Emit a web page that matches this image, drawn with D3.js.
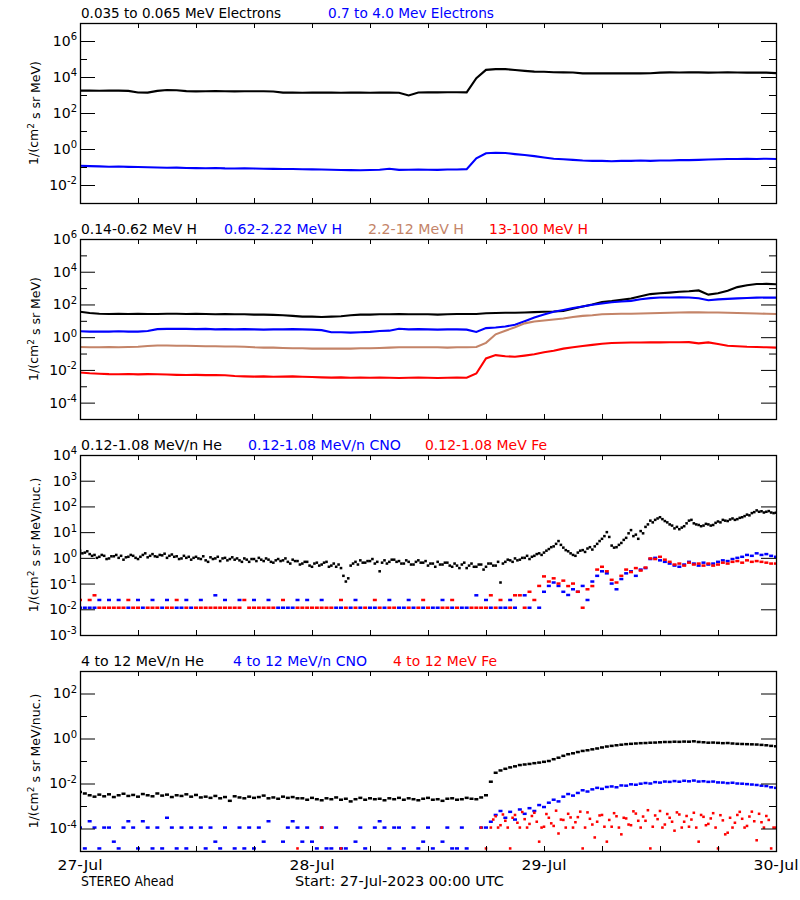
<!DOCTYPE html>
<html><head><meta charset="utf-8">
<script src="https://cdn.jsdelivr.net/npm/d3@7"></script>
<style>body{margin:0;background:#fff} svg{display:block} text{font-family:"DejaVu Sans",sans-serif}</style>
</head><body><svg id="c" width="800" height="900"></svg>
<script>
// ---------- DATA ----------
const startISO = "2023-07-27T00:00:00Z";
const dayLabels = ["27-Jul","28-Jul","29-Jul","30-Jul"];
// hourly series (t = 0..72 h)
const elecLow = [1740,1760,1720,1740,1750,1700,1380,1350,1700,1900,1850,1640,1600,1620,1650,1620,1600,1610,1630,1620,1580,1360,1350,1340,1350,1360,1350,1340,1350,1360,1340,1350,1360,1340,950,1380,1410,1400,1420,1410,1400,8500,25000,27500,27500,24500,22000,20000,19500,18200,18000,17800,16000,15800,15900,16000,15800,15900,16000,16100,17500,18000,17800,18200,18000,17600,17900,18100,17800,17500,17700,17400,16500];
const elecHigh = [0.118,0.112,0.108,0.104,0.106,0.102,0.100,0.097,0.094,0.090,0.092,0.088,0.087,0.085,0.088,0.084,0.083,0.086,0.082,0.080,0.079,0.077,0.078,0.075,0.074,0.072,0.070,0.068,0.067,0.066,0.068,0.070,0.080,0.069,0.071,0.073,0.070,0.069,0.072,0.073,0.076,0.30,0.58,0.62,0.60,0.52,0.46,0.40,0.34,0.29,0.27,0.25,0.23,0.22,0.22,0.21,0.22,0.22,0.23,0.22,0.23,0.23,0.24,0.24,0.25,0.26,0.27,0.28,0.28,0.29,0.28,0.29,0.28];
const hLow = [36,30,27,26,27,26,27,26,26,27,27,26,27,26,25,26,25,25,24,24,23,22,20,18,18,17,18,19,22,24,24,25,25,26,25,25,25,24,25,26,26,26,29,30,31,31,32,34,36,37,40,55,75,100,140,160,190,230,320,430,480,530,600,640,720,400,480,680,1150,1500,1780,1800,1700];
const hMid = [2.3,2.2,2.2,2.2,2.3,2.2,2.2,2.4,3.1,3.2,3.3,3.2,3.1,3.2,3.0,3.1,3.0,3.1,3.0,2.9,3.0,3.0,3.1,3.0,2.9,2.7,2.0,2.0,1.9,2.0,2.1,2.4,2.5,3.3,3.0,3.1,3.0,2.9,3.0,3.0,2.9,2.1,3.6,3.9,4.5,5.8,9.5,16,24,36,46,60,75,95,115,135,150,165,210,245,265,265,270,265,240,180,205,220,235,250,260,265,260];
const hHigh = [0.25,0.24,0.24,0.25,0.24,0.25,0.26,0.29,0.31,0.31,0.30,0.30,0.29,0.28,0.28,0.27,0.27,0.26,0.24,0.23,0.23,0.22,0.21,0.21,0.20,0.20,0.20,0.20,0.20,0.21,0.21,0.22,0.23,0.24,0.24,0.24,0.24,0.24,0.23,0.24,0.24,0.25,0.45,1.5,2.5,4.0,7.0,9.0,10.5,12,14,17,20,22,25,26,27,27,28,29,30,31,32,33,33,32,32,31,30,29,28,27,26];
const hTop = [0.0070,0.0062,0.0058,0.0055,0.0054,0.0056,0.0053,0.0055,0.0054,0.0052,0.0050,0.0049,0.0050,0.0048,0.0049,0.0047,0.0042,0.0040,0.0039,0.0040,0.0038,0.0039,0.0040,0.0038,0.0037,0.0035,0.0034,0.0035,0.0033,0.0034,0.0033,0.0034,0.0033,0.0032,0.0033,0.0034,0.0033,0.0032,0.0033,0.0034,0.0033,0.0060,0.050,0.080,0.068,0.064,0.075,0.090,0.12,0.15,0.20,0.24,0.29,0.34,0.40,0.44,0.46,0.47,0.47,0.48,0.48,0.49,0.49,0.50,0.42,0.48,0.38,0.30,0.28,0.26,0.25,0.24,0.23];
// 15-minute series (t = 0..72 h)
const heLow = [1.9,1.5,1.6,1.8,1.4,1.2,1.3,1.0,1.1,1.3,1.2,0.9,0.95,1.15,1.15,1.3,1.0,1.2,0.85,1.05,
1.1,1.3,1.2,1.0,0.9,1.1,1.3,1.5,1.05,1.2,1.4,1.15,1.1,1.3,1.25,1.45,1.0,1.2,1.35,1.1,
1.15,0.9,0.95,1.2,1.0,1.1,0.85,1.0,1.1,0.95,0.9,1.15,0.8,0.7,1.05,0.9,0.95,1.1,0.75,0.95,
1.0,0.8,0.9,1.05,0.85,0.95,0.8,0.7,0.95,0.85,0.7,0.9,0.9,0.75,1.0,0.85,0.75,0.95,0.85,0.7,
0.65,0.8,0.9,0.75,0.8,0.95,0.7,0.6,0.85,0.75,0.75,0.55,0.6,0.7,0.7,0.5,0.45,0.6,0.65,0.5,
0.55,0.65,0.7,0.45,0.5,0.6,0.45,0.55,0.4,0.2,0.12,0.16,0.5,0.6,0.7,0.55,0.8,0.65,0.65,0.75,
0.75,0.9,0.6,0.7,0.3,0.65,0.8,0.6,0.7,0.85,0.85,0.7,0.75,0.6,0.6,0.8,0.7,0.55,0.55,0.7,
0.8,0.65,0.65,0.75,0.5,0.6,0.6,0.45,0.7,0.55,0.55,0.65,0.65,0.5,0.45,0.6,0.5,0.4,0.55,0.65,
0.4,0.5,0.6,0.45,0.45,0.55,0.55,0.35,0.45,0.6,0.6,0.5,0.5,0.7,0.11,0.6,0.7,0.85,0.8,0.7,
0.95,0.8,0.85,1.0,1.0,1.2,0.9,1.1,1.2,1.4,1.5,1.3,1.6,1.9,2.2,2.6,2.8,3.5,4.5,3.2,
2.5,2.0,1.8,1.5,1.3,1.2,1.6,1.9,2.0,1.7,2.3,2.6,2.1,2.8,3.5,4.5,5.5,7.0,10,6.5,
3.0,2.5,2.6,3.2,3.8,5.0,6,9,12,7,8,5.5,11,9,16,20,28,24,30,34,
38,32,27,24,20,18,14,16,13,15,17,22,28,30,22,20,19,17,18,21,
20,18,19,23,26,24,30,28,27,31,34,30,32,36,38,42,48,45,55,60,
70,62,65,58,62,66,58,55,57];
// half-hourly series (t = 0..72 h, 30 min steps); 0 = no counts
const cnoLow = [.0115,.0115,.0115,.0115,.023,0,.023,0,.023,0,.0115,0,.023,.0115,0,.023,0,.0115,.023,0,.0115,.0115,.023,.0115,0,.023,0,0,.035,0,.023,0,0,.023,0,0,.023,0,0,.023,0,.0115,.0115,.0115,.0115,.023,0,.023,0,0,.023,0,0,.0115,.0115,0,.0115,.023,.0115,0,.0115,.0115,0,.0115,.023,0,.0115,.0115,.023,.0115,0,.0115,0,.0115,.0115,.023,0,.0115,0,.0115,.0115,0,.035,0,.023,.0115,0,.0115,.0115,.023,.0115,0,.035,.0115,0,.0115,.048,.081,.11,.081,.048,.036,.06,.048,.081,.023,.12,.2,.3,.25,.1,.06,.15,.25,.3,.2,.35,.4,.9,1.0,.8,.7,.6,.5,.45,.55,.7,.6,.5,.65,.55,.6,.7,.8,.75,.9,1.0,1.1,1.3,1.2,1.5,1.3,1.4,1.2,1.1];
const feLow = [.023,0,.023,.035,.0115,.0115,.0115,.0115,.0115,.0115,.023,.0115,.0115,0,.0115,.0115,.0115,0,.0115,.0115,.023,0,.0115,0,.0115,.0115,.0115,.0115,.0115,.0115,.0115,.0115,.0115,.0115,.023,.0115,.0115,.0115,.0115,.0115,.0115,0,.023,0,0,.0115,.0115,.0115,.0115,.0115,.0115,.0115,.0115,0,.023,.0115,0,.0115,0,.0115,0,.023,.0115,0,.0115,.0115,0,0,.0115,0,.0115,.023,.0115,0,0,.0115,.0115,.023,.0115,0,0,.0115,.0115,.0115,.0115,.035,.0115,.023,0,.0115,.035,.035,.0115,.048,.023,.081,.19,.12,.16,.1,.13,.08,.1,.048,.0115,.06,.08,.35,.45,.3,.14,.11,.2,.35,.28,.4,.32,.42,.95,.9,1.1,.85,.7,.55,.6,.5,.65,.55,.6,.5,.6,.5,.55,.65,.6,.7,.75,.65,.8,.7,.75,.7,.65,.6,.6];
const heHigh = [.0042,.0036,.0030,.0026,.0032,.0027,.0033,.0025,.0030,.0035,.0028,.0031,.0026,.0034,.0030,.0027,.0036,.0029,.0032,.0025,.0030,.0028,.0033,.0026,.0031,.0024,.0026,.0023,.0028,.0022,.0025,.0017,.0027,.0024,.0022,.0026,.0023,.0025,.0029,.0022,.0024,.0021,.0026,.0023,.0025,.0022,.0022,.0019,.0023,.0020,.0018,.0022,.0020,.0024,.0019,.0021,.0016,.0020,.0023,.0019,.0022,.0020,.0021,.0018,.0022,.0020,.0023,.0019,.0022,.0020,.0018,.0021,.0023,.0019,.0020,.0017,.0021,.0022,.0019,.0020,.0023,.0021,.0020,.0024,.0030,.012,.030,.038,.045,.052,.058,.066,.070,.074,.080,.085,.092,.10,.12,.14,.17,.20,.22,.25,.28,.30,.33,.36,.40,.44,.47,.50,.53,.56,.58,.60,.62,.63,.65,.66,.68,.70,.70,.72,.71,.73,.72,.75,.70,.68,.65,.66,.64,.62,.63,.60,.58,.57,.56,.55,.54,.52,.50,.47,.45];
const cnoHigh = [1.1e-4,1.3e-5,2.1e-4,1.1e-4,1.3e-5,1.1e-4,1.1e-4,2.6e-5,1.3e-5,1.1e-4,2.1e-4,1.1e-4,1.3e-5,2.1e-4,1.1e-4,1.3e-5,1.1e-4,1.3e-5,3e-4,1.1e-4,1.3e-5,1.1e-4,1.3e-5,1.1e-4,0,1.1e-4,1.3e-5,1.1e-4,2.6e-5,1.3e-5,1.1e-4,0,1.3e-5,1.1e-4,1.3e-5,1.1e-4,1.3e-5,1.1e-4,2.6e-5,2.1e-4,0,0,2.6e-5,1.1e-4,2.1e-4,1.1e-4,2.6e-5,1.1e-4,2.6e-5,1.3e-5,1.1e-4,1.3e-5,1.3e-5,1.1e-4,1.3e-5,1.3e-5,0,2.6e-5,1.1e-4,1.3e-5,0,1.1e-4,2.1e-4,1.1e-4,1.3e-5,1.1e-4,1.1e-4,1.3e-5,0,1.1e-4,1.3e-5,2.6e-5,1.1e-4,1.3e-5,0,2.6e-5,1.1e-4,1.3e-5,1.3e-5,1.1e-4,1.3e-5,0,0,1.1e-4,1.1e-4,2.0e-4,4.0e-4,6.0e-4,3.0e-4,5.5e-4,2.5e-4,7.0e-4,4.5e-4,8.0e-4,6.0e-4,1.1e-3,9.0e-4,1.4e-3,1.9e-3,1.6e-3,2.6e-3,3.4e-3,2.9e-3,3.8e-3,5.0e-3,4.4e-3,5.5e-3,6.4e-3,5.8e-3,7.0e-3,7.4e-3,6.8e-3,8.2e-3,8.0e-3,9.2e-3,8.8e-3,9.8e-3,0.0105,0.0100,0.0115,0.0110,0.0122,0.0118,0.0128,0.0120,0.0132,0.0125,0.0135,0.0122,0.0126,0.0118,0.0122,0.0112,0.0110,0.0104,0.0108,0.0100,0.0098,0.0094,0.0090,0.0086,0.0080,0.0077,0.0068,0.0064];
// 15-minute series; 0 = no counts
const feHigh = [0,0,0,0,0,0,0,0,0,0, 0,0,0,0,0,0,0,0,0,0, 0,0,0,0,0,0,0,0,0,0, 0,0,0,0,0,0,0,0,0,0, 0,0,0,0,0,0,0,0,0,0,
0,0,0,0,0,0,0,0,0,0, 0,0,0,0,0,0,0,0,0,0, 0,0,0,0,0,0,0,0,0,0, 0,0,0,0,0,0,0,0,0,0,
1.3e-5,0,0,0,0,0,0,0,0,0, 1.1e-4,0,0,0,0,0,0,0,1.3e-5,0,
0,0,0,0,0,0,0,0,0,0, 0,0,0,0,0,0,0,0,0,0, 0,0,0,0,0,0,0,0,0,0, 0,0,0,0,0,0,0,0,0,0, 0,0,0,0,0,0,0,0,0,0,
0,0,0,0,0,0,1.1e-4,0,1.3e-5,0,
1.1e-4,2.5e-4,3.5e-4,1.1e-4,1.4e-4,4.2e-4,2.2e-4,1.1e-4,1.3e-5,3.0e-4,
4.0e-4,1.8e-4,1.1e-4,5.4e-4,2.6e-4,1.1e-4,1.6e-4,3.6e-4,5.0e-4,2.0e-4,
2.6e-5,1.1e-4,1.2e-4,4.4e-4,3.0e-4,1.7e-4,1.3e-4,6.2e-4,6.0e-5,2.5e-4,
2.4e-4,1.1e-4,4.5e-4,3.1e-4,1.1e-4,1.9e-4,3.2e-4,5.6e-4,1.3e-5,1.1e-4,
5.2e-4,2.7e-4,1.5e-4,4.0e-5,2.0e-4,3.8e-4,4.0e-4,1.2e-4,2.6e-5,2.4e-4,
1.2e-4,4.8e-4,3.5e-4,1.1e-4,5.5e-5,3.0e-4,2.8e-4,1.5e-4,1.4e-4,5.8e-4,
4.6e-4,2.2e-4,1.1e-4,3.4e-4,2.2e-4,6.5e-4,1.3e-5,1.2e-4,3.8e-4,2.6e-4,
6.0e-4,1.1e-4,1.5e-4,4.4e-4,3.0e-4,2.0e-4,8.0e-5,5.2e-4,4.2e-4,1.1e-4,
2.0e-4,3.6e-4,1.2e-4,2.5e-4,5.0e-4,1.1e-4,2.6e-5,4.0e-4,3.3e-4,1.4e-4,
1.6e-4,2.8e-4,4.8e-4,1.1e-4,1.3e-5,3.9e-4,2.3e-4,5.5e-5,6.5e-5,3.0e-4,
1.1e-4,1.8e-4,4.0e-4,5.5e-4,2.7e-4,1.1e-4,1.3e-4,3.4e-4,5.6e-4,2.1e-4,
3.0e-5,4.5e-4,1.9e-4,1.1e-4,3.6e-4,2.4e-4,1.3e-5,1.1e-4,1.1e-4];

// ---------- CHART ----------
const start = new Date(startISO);
const end = d3.utcDay.offset(start, 3);
const stepTimes = n => d3.range(n).map(i => new Date(+start + i * (+end - +start) / (n - 1)));

const X0 = 80, X1 = 776, PH = 180;
const BLUE = "#0000ff", RED = "#ff0000", BROWN = "#c48468";
const svg = d3.select("#c");
svg.append("rect").attr("width", 800).attr("height", 900).attr("fill", "#fff");
const x = d3.scaleUtc().domain([start, end]).range([X0, X1]);

const units1 = ["1/(cm", "2", " s sr MeV)"];
const units2 = ["1/(cm", "2", " s sr MeV/nuc.)"];

const panels = [
  { top: 23, domain: [1e-3, 1e7], majors: [1e6, 1e4, 1e2, 1, 1e-2], minors: [1e5, 1e3, 10, 0.1], units: units1, tb: 18,
    titles: [["0.035 to 0.065 MeV Electrons", "#000", 81, 200], ["0.7 to 4.0 Mev Electrons", BLUE, 328, 166]],
    series: [{ v: elecLow, c: "#000", k: "line" }, { v: elecHigh, c: BLUE, k: "line" }] },
  { top: 239, domain: [1e-5, 1e6], majors: [1e6, 1e4, 1e2, 1, 1e-2, 1e-4], minors: [1e5, 1e3, 10, 0.1, 1e-3], units: units1, tb: 234,
    titles: [["0.14-0.62 MeV H", "#000", 81, 116], ["0.62-2.22 MeV H", BLUE, 224, 118], ["2.2-12 MeV H", BROWN, 368, 96], ["13-100 MeV H", RED, 489, 99]],
    series: [{ v: hLow, c: "#000", k: "line" }, { v: hMid, c: BLUE, k: "line" },
             { v: hHigh, c: BROWN, k: "line" }, { v: hTop, c: RED, k: "line" }] },
  { top: 455, domain: [1e-3, 1e4], majors: [1e4, 1e3, 1e2, 10, 1, 0.1, 1e-2, 1e-3], minors: [], units: units2, tb: 450,
    titles: [["0.12-1.08 MeV/n He", "#000", 81, 141], ["0.12-1.08 MeV/n CNO", BLUE, 248, 153], ["0.12-1.08 MeV Fe", RED, 425, 122]],
    series: [{ v: heLow, c: "#000", k: "dot" }, { v: cnoLow, c: BLUE, k: "dot" }, { v: feLow, c: RED, k: "dot" }] },
  { top: 671, domain: [1e-5, 1e3], majors: [1e2, 1, 1e-2, 1e-4], minors: [10, 0.1, 1e-3], units: units2, tb: 666,
    titles: [["4 to 12 MeV/n He", "#000", 81, 123], ["4 to 12 MeV/n CNO", BLUE, 233, 134], ["4 to 12 MeV Fe", RED, 393, 104]],
    series: [{ v: heHigh, c: "#000", k: "dot" }, { v: cnoHigh, c: BLUE, k: "dot" }, { v: feHigh, c: RED, k: "dot" }] }
];

const sixHours = d3.utcHour.every(6).range(start, d3.utcHour.offset(end, 1));

panels.forEach((p, pi) => {
  const bottom = p.top + PH;
  const y = d3.scaleLog().domain(p.domain).range([bottom, p.top]);
  const g = svg.append("g");
  const clipId = "clip" + pi;
  g.append("clipPath").attr("id", clipId).append("rect")
    .attr("x", X0).attr("y", p.top).attr("width", X1 - X0).attr("height", PH);
  const plot = g.append("g").attr("clip-path", `url(#${clipId})`);

  p.series.forEach(s => {
    const times = stepTimes(s.v.length);
    const pts = s.v.map((v, i) => ({ t: times[i], v })).filter(d => d.v > 0);
    if (s.k === "line") {
      plot.append("path").datum(pts)
        .attr("fill", "none").attr("stroke", s.c).attr("stroke-width", 2.1)
        .attr("d", d3.line().x(d => x(d.t)).y(d => y(d.v)));
    } else {
      const w = s.v.length > 200 ? 2.6 : 4.0;
      plot.selectAll(null).data(pts).enter().append("rect")
        .attr("x", d => x(d.t) - w / 2).attr("y", d => y(d.v) - 1.25)
        .attr("width", w).attr("height", 2.5).attr("fill", s.c);
    }
  });

  // frame
  g.append("rect").attr("x", X0 + 0.5).attr("y", p.top + 0.5).attr("width", X1 - X0).attr("height", PH)
    .attr("fill", "none").attr("stroke", "#000").attr("stroke-width", 1.3);

  const fmtAxis = sel => { sel.select(".domain").remove(); sel.selectAll(".tick line").attr("stroke", "#000"); };

  const yl = g.append("g").attr("transform", `translate(${X0},0)`)
    .call(d3.axisLeft(y).tickValues(p.majors).tickSize(-15).tickSizeOuter(0).tickPadding(3).tickFormat(() => "10"))
    .attr("font-size", 14).attr("font-family", "DejaVu Sans");
  fmtAxis(yl);
  yl.selectAll(".tick text").attr("fill", "#000").each(function (d) {
    const e = Math.round(Math.log10(d));
    d3.select(this).append("tspan").attr("dy", "-0.55em").attr("font-size", 10).text(e);
  });
  fmtAxis(g.append("g").attr("transform", `translate(${X1},0)`)
    .call(d3.axisRight(y).tickValues(p.majors).tickSize(-15).tickSizeOuter(0).tickFormat("")));
  if (p.minors.length) {
    fmtAxis(g.append("g").attr("transform", `translate(${X0},0)`)
      .call(d3.axisLeft(y).tickValues(p.minors).tickSize(-7).tickSizeOuter(0).tickFormat("")));
    fmtAxis(g.append("g").attr("transform", `translate(${X1},0)`)
      .call(d3.axisRight(y).tickValues(p.minors).tickSize(-7).tickSizeOuter(0).tickFormat("")));
  }
  fmtAxis(g.append("g").attr("transform", `translate(0,${bottom})`)
    .call(d3.axisBottom(x).tickValues(sixHours).tickSize(-5).tickSizeOuter(0).tickFormat("")));
  fmtAxis(g.append("g").attr("transform", `translate(0,${p.top})`)
    .call(d3.axisTop(x).tickValues(sixHours).tickSize(-5).tickSizeOuter(0).tickFormat("")));

  const yt = g.append("text").attr("transform", `translate(38,${p.top + PH / 2}) rotate(-90)`)
    .attr("text-anchor", "middle").attr("font-size", 12.5).attr("fill", "#000");
  yt.append("tspan").text(p.units[0]);
  yt.append("tspan").attr("dy", "-0.5em").attr("font-size", 9).text(p.units[1]);
  yt.append("tspan").attr("dy", "0.5em").text(p.units[2]);

  p.titles.forEach(([txt, col, tx, len]) => {
    g.append("text").attr("x", tx).attr("y", p.tb).attr("font-size", 13.5).attr("fill", col)
      .attr("textLength", len).attr("lengthAdjust", "spacingAndGlyphs").text(txt);
  });
});

const days = d3.utcDay.range(start, d3.utcHour.offset(end, 1));
svg.append("g").selectAll("text").data(days).enter().append("text")
  .attr("x", d => x(d)).attr("y", 870).attr("text-anchor", "middle").attr("font-size", 14)
  .attr("textLength", 45).attr("lengthAdjust", "spacingAndGlyphs")
  .text((d, i) => dayLabels[i]);
svg.append("text").attr("x", 81).attr("y", 886).attr("font-size", 13.5)
  .attr("textLength", 93).attr("lengthAdjust", "spacingAndGlyphs").text("STEREO Ahead");
svg.append("text").attr("x", 295).attr("y", 886).attr("font-size", 13.5)
  .attr("textLength", 209).attr("lengthAdjust", "spacingAndGlyphs").text("Start: 27-Jul-2023 00:00 UTC");
</script></body></html>
